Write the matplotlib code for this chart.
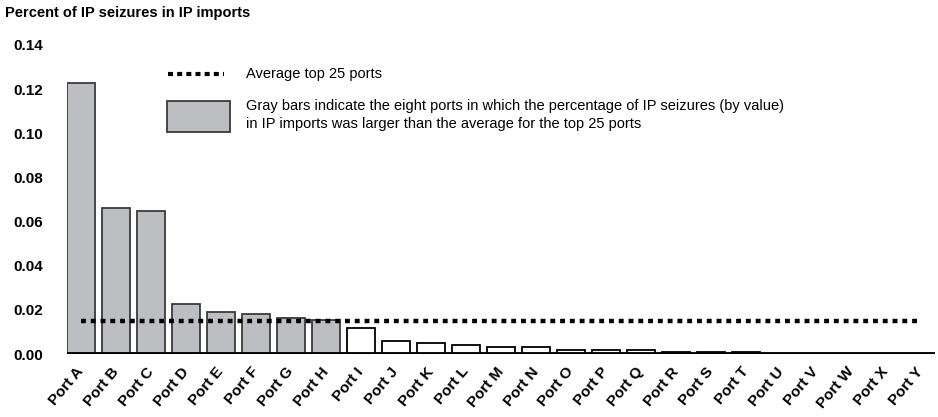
import matplotlib
matplotlib.use('Agg')
import matplotlib.pyplot as plt
from matplotlib.lines import Line2D
from matplotlib.patches import Rectangle

# data
ports = ['Port ' + c for c in 'ABCDEFGHIJKLMNOPQRSTUVWXY']
share = [0.123, 0.066, 0.065, 0.0227, 0.019, 0.018, 0.0162, 0.0152,
         0.012, 0.006, 0.005, 0.004, 0.003, 0.003, 0.002, 0.002, 0.002,
         0.001, 0.001, 0.001, 0.0, 0.0, 0.0, 0.0, 0.0]
average = 0.0149
above_avg = [True] * 8 + [False] * 17
yticks = [0.00, 0.02, 0.04, 0.06, 0.08, 0.10, 0.12, 0.14]

plt.rcParams['font.family'] = ['Liberation Sans', 'DejaVu Sans']

W, H = 938, 417
fig = plt.figure(figsize=(W / 100, H / 100), dpi=100)
ax = fig.add_axes([67 / W, 63 / H, 868 / W, 309 / H])

gray = '#bdbec2'
colors = [gray if g else 'white' for g in above_avg]
edges = ['#3a3a3a' if g else 'black' for g in above_avg]
ax.bar(range(len(ports)), share, width=0.8, color=colors, edgecolor=edges,
       linewidth=1.3, zorder=2)

# average line (square dots)
ax.plot([0, len(ports) - 1], [average, average], color='black', linewidth=3.2,
        linestyle=(0, (1.1, 1.1)), dash_capstyle='butt', zorder=3)

# thick baseline
ax.axhline(0, color='black', linewidth=3.5, zorder=4)

ax.set_xlim(-0.4, len(ports) - 0.6)
ax.set_ylim(0, 0.14)
ax.set_yticks(yticks)
ax.set_yticklabels(['%.2f' % v for v in yticks], fontsize=11, fontweight='bold')
ax.set_xticks(range(len(ports)))
ax.set_xticklabels(ports, rotation=50, ha='right', va='center',
                   rotation_mode='anchor', fontsize=11, fontweight='bold')
ax.tick_params(axis='y', length=0, pad=17)
ax.tick_params(axis='x', length=0, pad=11)
for s in ax.spines.values():
    s.set_visible(False)

# title
fig.text(5 / W, 1 - 13 / H, 'Percent of IP seizures in IP imports',
         fontsize=10.5, fontweight='bold', va='center', ha='left')

# legend drawn by hand
fig.add_artist(Line2D([168 / W, 224 / W], [1 - 73.5 / H, 1 - 73.5 / H],
                      transform=fig.transFigure, color='black', linewidth=3,
                      linestyle=(0, (1.2, 1.0)), dash_capstyle='butt'))
fig.text(246 / W, 1 - 74 / H, 'Average top 25 ports', fontsize=10.5,
         va='center', ha='left')
fig.add_artist(Rectangle((167 / W, 1 - 132 / H), 63 / W, 31 / H,
                         transform=fig.transFigure, facecolor=gray,
                         edgecolor='#3a3a3a', linewidth=1.3))
fig.text(246 / W, 1 - 106 / H,
         'Gray bars indicate the eight ports in which the percentage of IP seizures (by value)',
         fontsize=10.5, va='center', ha='left')
fig.text(246 / W, 1 - 124.5 / H,
         'in IP imports was larger than the average for the top 25 ports',
         fontsize=10.5, va='center', ha='left')

fig.savefig('out.png', dpi=100)
